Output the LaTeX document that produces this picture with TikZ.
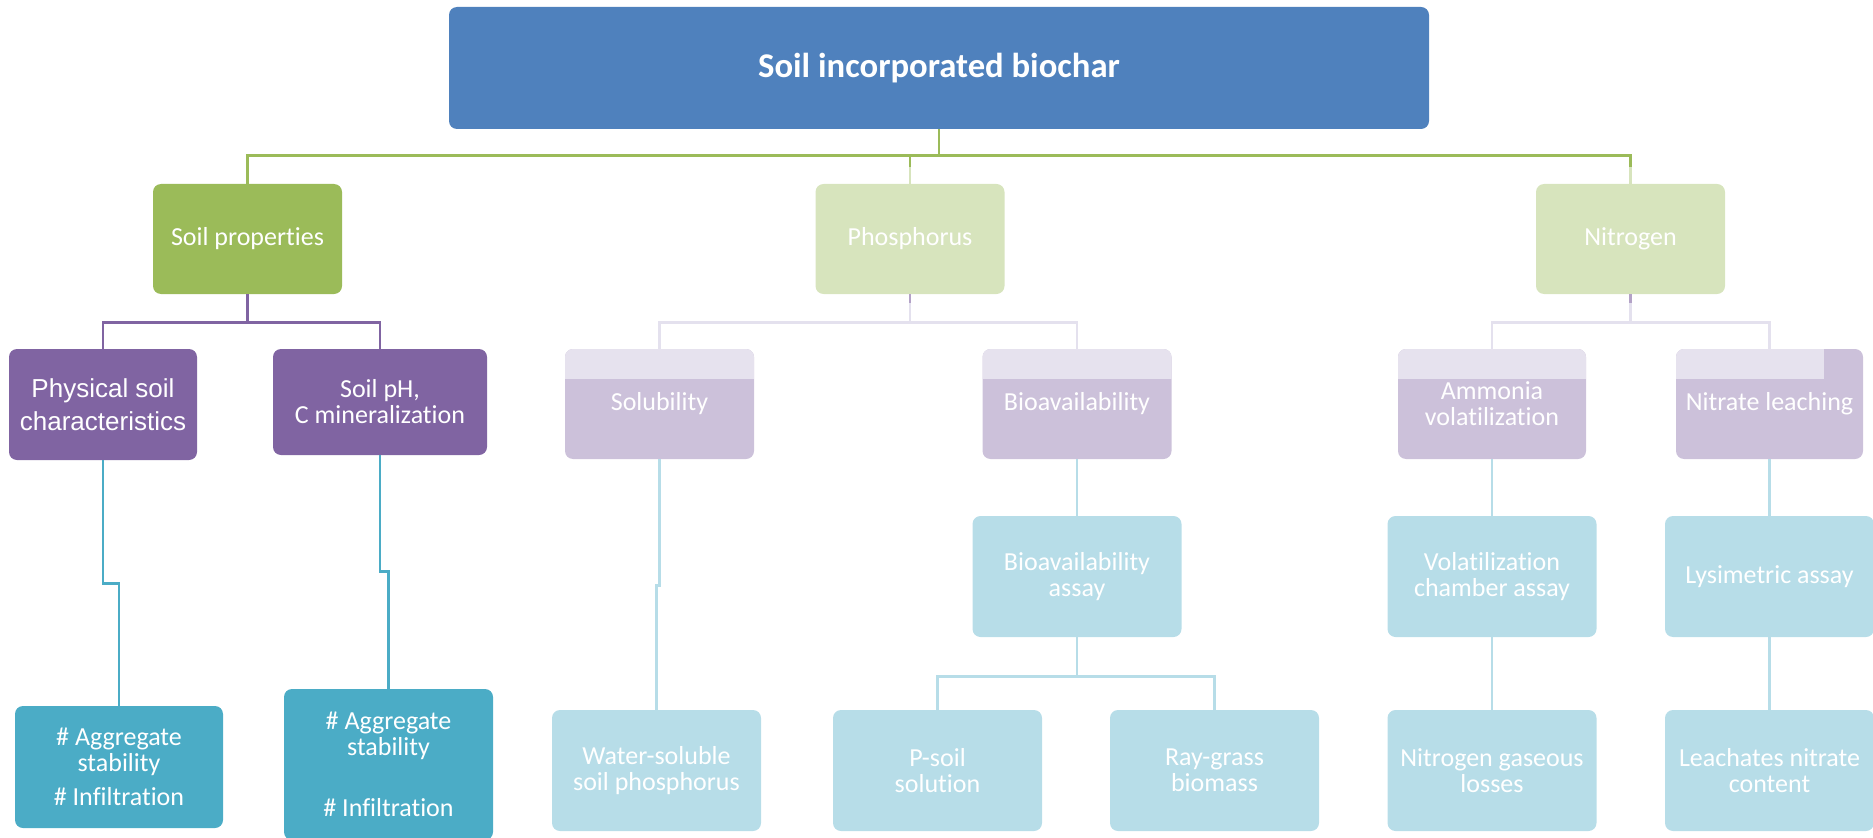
\documentclass[tikz,border=0pt]{standalone}
\usepackage{fontspec}
\setmainfont[Ligatures=NoCommon]{Carlito}
\newfontfamily\arialfont{Liberation Sans}
\definecolor{topblue}{HTML}{4F81BD}
\definecolor{leafgreen}{HTML}{9BBB59}
\definecolor{palegreen}{HTML}{D7E4BD}
\definecolor{plum}{HTML}{8064A2}
\definecolor{midplum}{HTML}{B3A2C7}
\definecolor{lavender}{HTML}{CCC1DA}
\definecolor{lavtop}{HTML}{E6E2EE}
\definecolor{lavline}{HTML}{E4E1EE}
\definecolor{aqua}{HTML}{4BACC6}
\definecolor{paleaqua}{HTML}{B7DDE8}
\tikzset{
  box/.style={rounded corners=6pt, inner sep=0pt, align=center, text=white,
    font=\fontsize{19.5}{19.5}\selectfont},
  headbox/.style={box, fill=topblue, minimum width=735pt, minimum height=91.5pt,
    font=\bfseries\fontsize{26}{26}\selectfont},
  groupbox/.style={box, minimum width=141.75pt, minimum height=82.5pt},
  lavbox/.style={box, fill=lavender, minimum width=141.75pt, minimum height=82.5pt,
    path picture={\fill[lavtop, sharp corners] (path picture bounding box.north west)
      rectangle ([xshift=-#1, yshift=-22.5pt]path picture bounding box.north east);}},
  lavbox/.default=0pt,
  assaybox/.style={box, fill=paleaqua, minimum width=156.75pt, minimum height=90.75pt},
  link/.style={line width=2.1pt},
}
\begin{document}
\begin{tikzpicture}[x=0.75pt, y=-0.75pt]
  \useasboundingbox (0, 0) rectangle (1873, 838);

  \node[headbox] (biochar) at (939, 68) {Soil incorporated biochar};

  \node[groupbox, fill=leafgreen] (soil) at (247.5, 239) {Soil properties};
  \node[groupbox, fill=palegreen] (phos) at (910, 239) {Phosphorus};
  \node[groupbox, fill=palegreen] (nitro) at (1630.5, 239) {Nitrogen};

  \node[box, fill=plum, minimum width=141pt, minimum height=83.25pt,
    font=\arialfont\fontsize{19.5}{24.75}\selectfont] (physical) at (103, 404.5)
    {Physical soil\\characteristics};
  \node[box, fill=plum, minimum width=160.5pt, minimum height=79.5pt] (soilph) at (380, 402)
    {Soil pH,\\C mineralization};
  \node[lavbox] (solub) at (659.5, 404) {Solubility};
  \node[lavbox] (bioav) at (1077, 404) {Bioavailability};
  \node[lavbox, minimum width=141pt] (ammonia) at (1492, 404) {Ammonia\\volatilization};
  \node[lavbox=29.25pt, minimum width=140.25pt] (nitrate) at (1769.5, 404) {Nitrate leaching};

  \node[box, fill=aqua, minimum width=156pt, minimum height=91.5pt] (aggrA) at (119, 767)
    {\# Aggregate\\stability\\[6pt]\# Infiltration};
  \node[box, fill=aqua, minimum width=156.75pt, minimum height=113.25pt] (aggrB) at (388.5, 764.5)
    {\# Aggregate\\stability\\[26pt]\# Infiltration};

  \node[assaybox] (water) at (656.5, 770.5) {Water-soluble\\soil phosphorus};
  \node[assaybox] (bioassay) at (1077, 576.5) {Bioavailability\\assay};
  \node[assaybox] (psoil) at (937.5, 770.5) {P-soil\\solution};
  \node[assaybox] (raygrass) at (1214.5, 770.5) {Ray-grass\\biomass};
  \node[assaybox] (volat) at (1492, 576.5) {Volatilization\\chamber assay};
  \node[assaybox] (ngas) at (1492, 770.5) {Nitrogen gaseous\\losses};
  \node[assaybox] (lysi) at (1769.5, 576.5) {Lysimetric assay};
  \node[assaybox] (leach) at (1769.5, 770.5) {Leachates nitrate\\content};

  \draw[link, leafgreen] (biochar.south) -- ++(0, 26) -| (soil.north);
  \draw[link, leafgreen] (biochar.south) -- ++(0, 26) -| (phos.north);
  \draw[link, leafgreen] (biochar.south) -- ++(0, 26) -| (nitro.north);
  \draw[link, palegreen] (phos.north) -- ++(0, -17);
  \draw[link, palegreen] (nitro.north) -- ++(0, -17);

  \draw[link, plum] (soil.south) -- ++(0, 28) -| (physical.north);
  \draw[link, plum] (soil.south) -- ++(0, 28) -| (soilph.north);

  \draw[link, lavline] (phos.south) -- ++(0, 28) -| (solub.north);
  \draw[link, lavline] (phos.south) -- ++(0, 28) -| (bioav.north);
  \draw[link, lavline] (nitro.south) -- ++(0, 28) -| (ammonia.north);
  \draw[link, lavline] (nitro.south) -- ++(0, 28) -| (nitrate.north);
  \draw[link, midplum] (phos.south) -- ++(0, 9);
  \draw[link, midplum] (nitro.south) -- ++(0, 9);

  \draw[link, aqua] (physical.south) -- ++(0, 123) -| (aggrA.north);
  \draw[link, aqua] (soilph.south) -- ++(0, 116) -| (aggrB.north);

  \draw[link, paleaqua] (solub.south) -- ++(0, 126) -| (water.north);
  \draw[link, paleaqua] (bioav.south) -- (bioassay.north);
  \draw[link, paleaqua] (bioassay.south) -- ++(0, 39) -| (psoil.north);
  \draw[link, paleaqua] (bioassay.south) -- ++(0, 39) -| (raygrass.north);
  \draw[link, paleaqua] (ammonia.south) -- (volat.north);
  \draw[link, paleaqua] (volat.south) -- (ngas.north);
  \draw[link, paleaqua] (nitrate.south) -- (lysi.north);
  \draw[link, paleaqua] (lysi.south) -- (leach.north);
\end{tikzpicture}
\end{document}
